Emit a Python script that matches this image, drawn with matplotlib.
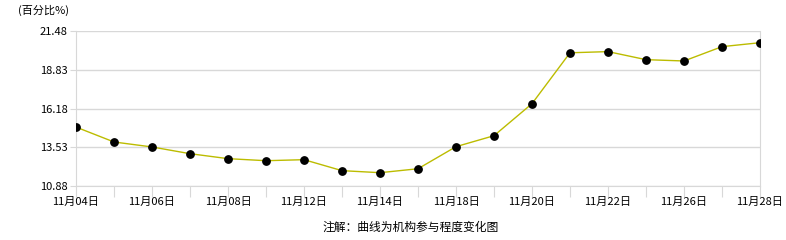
import matplotlib
matplotlib.use('Agg')
import matplotlib.pyplot as plt

plt.rcParams['font.family'] = ['Noto Sans CJK SC', 'DejaVu Sans']

dates = ['11月04日', '11月05日', '11月06日', '11月07日', '11月08日', '11月11日', '11月12日',
         '11月13日', '11月14日', '11月15日', '11月18日', '11月19日', '11月20日', '11月21日',
         '11月22日', '11月25日', '11月26日', '11月27日', '11月28日']
values = [14.91, 13.89, 13.55, 13.09, 12.75, 12.61, 12.68, 11.93, 11.79, 12.06,
          13.57, 14.32, 16.51, 19.99, 20.07, 19.52, 19.43, 20.41, 20.68]
yticks = [10.88, 13.53, 16.18, 18.83, 21.48]

grey = '#d8d8d8'
fig = plt.figure(figsize=(7.86, 2.40), dpi=100)
ax = fig.add_axes([76 / 786, 1 - 186 / 240, (760 - 76) / 786, (186 - 31) / 240])

x = list(range(len(values)))
ax.plot(x, values, color='#bcbc00', lw=1, zorder=2)
ax.plot(x, values, 'o', color='black', ms=5.3, zorder=3)

ax.set_xlim(0, len(values) - 1)
ax.set_ylim(yticks[0], yticks[-1])
ax.set_yticks(yticks)
ax.set_yticklabels(['%.2f' % v for v in yticks], fontsize=8)
ax.set_xticks(x)
ax.set_xticklabels([d if i % 2 == 0 else '' for i, d in enumerate(dates)], fontsize=8)
ax.tick_params(axis='x', length=8, color=grey, pad=0)
ax.tick_params(axis='y', length=4, color=grey, pad=2)
ax.grid(axis='y', color=grey, lw=1)
ax.set_axisbelow(True)
ax.spines['top'].set_visible(False)
for s in ['left', 'bottom', 'right']:
    ax.spines[s].set_color(grey)

fig.text(18 / 786, 1 - 10 / 240, '(百分比%)', fontsize=8, va='center', ha='left')
fig.text(411 / 786, 1 - 227 / 240, '注解：曲线为机构参与程度变化图', fontsize=8.5, va='center', ha='center')

fig.savefig('out.png', dpi=100)
